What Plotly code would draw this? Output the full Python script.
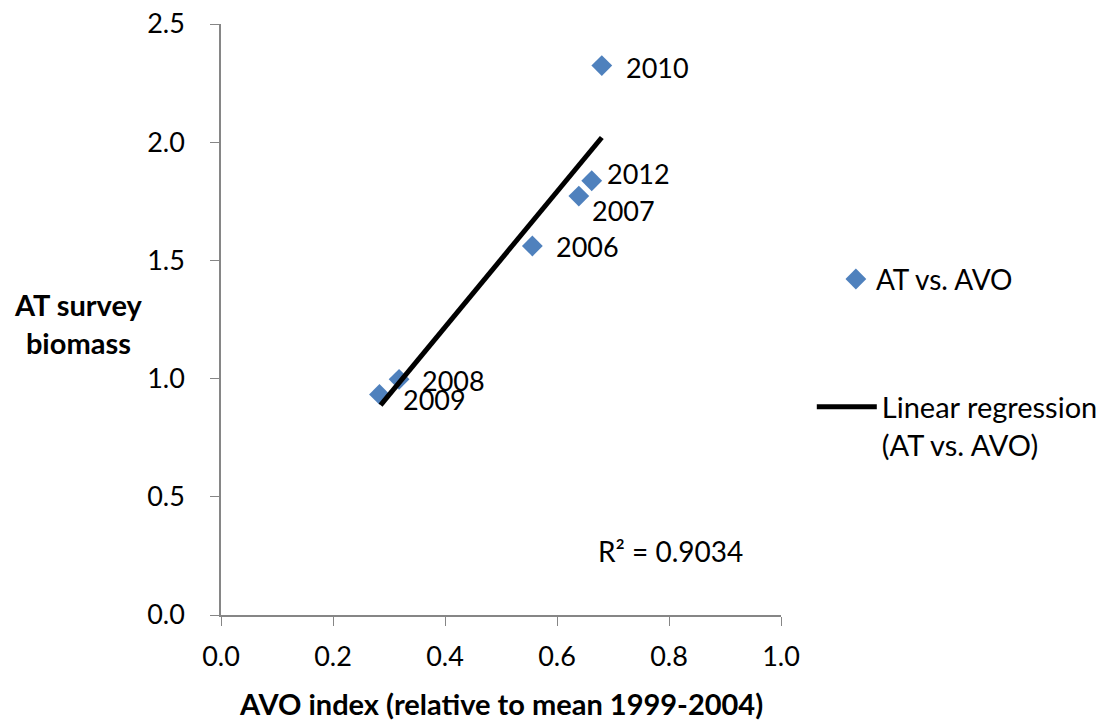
import plotly.graph_objects as go

# ---- data ----
years = ["2010", "2012", "2007", "2006", "2008", "2009"]
avo_index = [0.680, 0.662, 0.639, 0.556, 0.318, 0.283]
at_biomass = [2.324, 1.837, 1.772, 1.561, 0.997, 0.933]

trend_x = [0.285, 0.680]
trend_y = [0.888, 2.020]
r_squared = "R² = 0.9034"

x_ticks = [0.0, 0.2, 0.4, 0.6, 0.8, 1.0]
y_ticks = [0.0, 0.5, 1.0, 1.5, 2.0, 2.5]

# label offsets (style)
label_dx = [22, 13, 11, 22, 21, 22]
label_dy = [-2, 7, -14, -1, -1, -5]

FONT = "Lato, 'Open Sans', sans-serif"
AXIS_GRAY = "#868686"
BLUE = "#4F81BD"

fig = go.Figure()

fig.add_trace(go.Scatter(
    x=avo_index, y=at_biomass, mode="markers", name="AT vs. AVO",
    marker=dict(symbol="diamond", size=16, color=BLUE),
    legend="legend", cliponaxis=False,
))
fig.add_trace(go.Scatter(
    x=trend_x, y=trend_y, mode="lines", name="Linear regression<br>(AT vs. AVO)",
    line=dict(color="black", width=5),
    legend="legend2", cliponaxis=False,
))

annotations = []
for yr, xv, yv, dx, dy in zip(years, avo_index, at_biomass, label_dx, label_dy):
    annotations.append(dict(
        x=xv, y=yv, text=yr, showarrow=False, xanchor="left", yanchor="middle",
        xshift=dx, yshift=dy, font=dict(size=27, color="black", family=FONT),
    ))

annotations.append(dict(
    x=0.67, y=0.27, text=r_squared, showarrow=False, xanchor="left", yanchor="middle",
    font=dict(size=28, color="black", family=FONT),
))
annotations.append(dict(
    xref="paper", yref="paper", x=-0.255, y=0.493, text="<b>AT survey<br>biomass</b>",
    showarrow=False, xanchor="center", yanchor="middle",
    font=dict(size=29, color="black", family=FONT),
))
annotations.append(dict(
    xref="paper", yref="paper", x=0.5, y=-0.149, text="<b>AVO index (relative to mean 1999-2004)</b>",
    showarrow=False, xanchor="center", yanchor="middle",
    font=dict(size=29, color="black", family=FONT),
))

fig.update_layout(
    width=1115, height=723,
    margin=dict(l=221, r=334, t=24, b=108, autoexpand=False),
    paper_bgcolor="white", plot_bgcolor="white",
    font=dict(family=FONT, size=27, color="black"),
    showlegend=True,
    legend=dict(x=1.098, xanchor="left", y=0.568, yanchor="middle",
                xref="paper", yref="paper", font=dict(size=28, family=FONT),
                bgcolor="rgba(0,0,0,0)", itemwidth=30),
    legend2=dict(x=1.055, xanchor="left", y=0.32, yanchor="middle",
                 xref="paper", yref="paper", font=dict(size=29, family=FONT),
                 bgcolor="rgba(0,0,0,0)", itemwidth=60, valign="top"),
    annotations=annotations,
    xaxis=dict(range=[0, 1.0], tickvals=x_ticks, ticktext=[f"{v:.1f}" for v in x_ticks],
               showgrid=False, zeroline=False, showline=True, linecolor=AXIS_GRAY,
               linewidth=1.5, ticks="outside", ticklen=9, tickcolor=AXIS_GRAY,
               ticklabelstandoff=8, automargin=False,
               tickfont=dict(size=27, family=FONT, color="black")),
    yaxis=dict(range=[0, 2.5], tickvals=y_ticks, ticktext=[f"{v:.1f}" for v in y_ticks],
               showgrid=False, zeroline=False, showline=True, linecolor=AXIS_GRAY,
               linewidth=1.5, ticks="outside", ticklen=9, tickcolor=AXIS_GRAY,
               ticklabelstandoff=20, automargin=False,
               tickfont=dict(size=27, family=FONT, color="black")),
)

fig.write_html("out.html")
